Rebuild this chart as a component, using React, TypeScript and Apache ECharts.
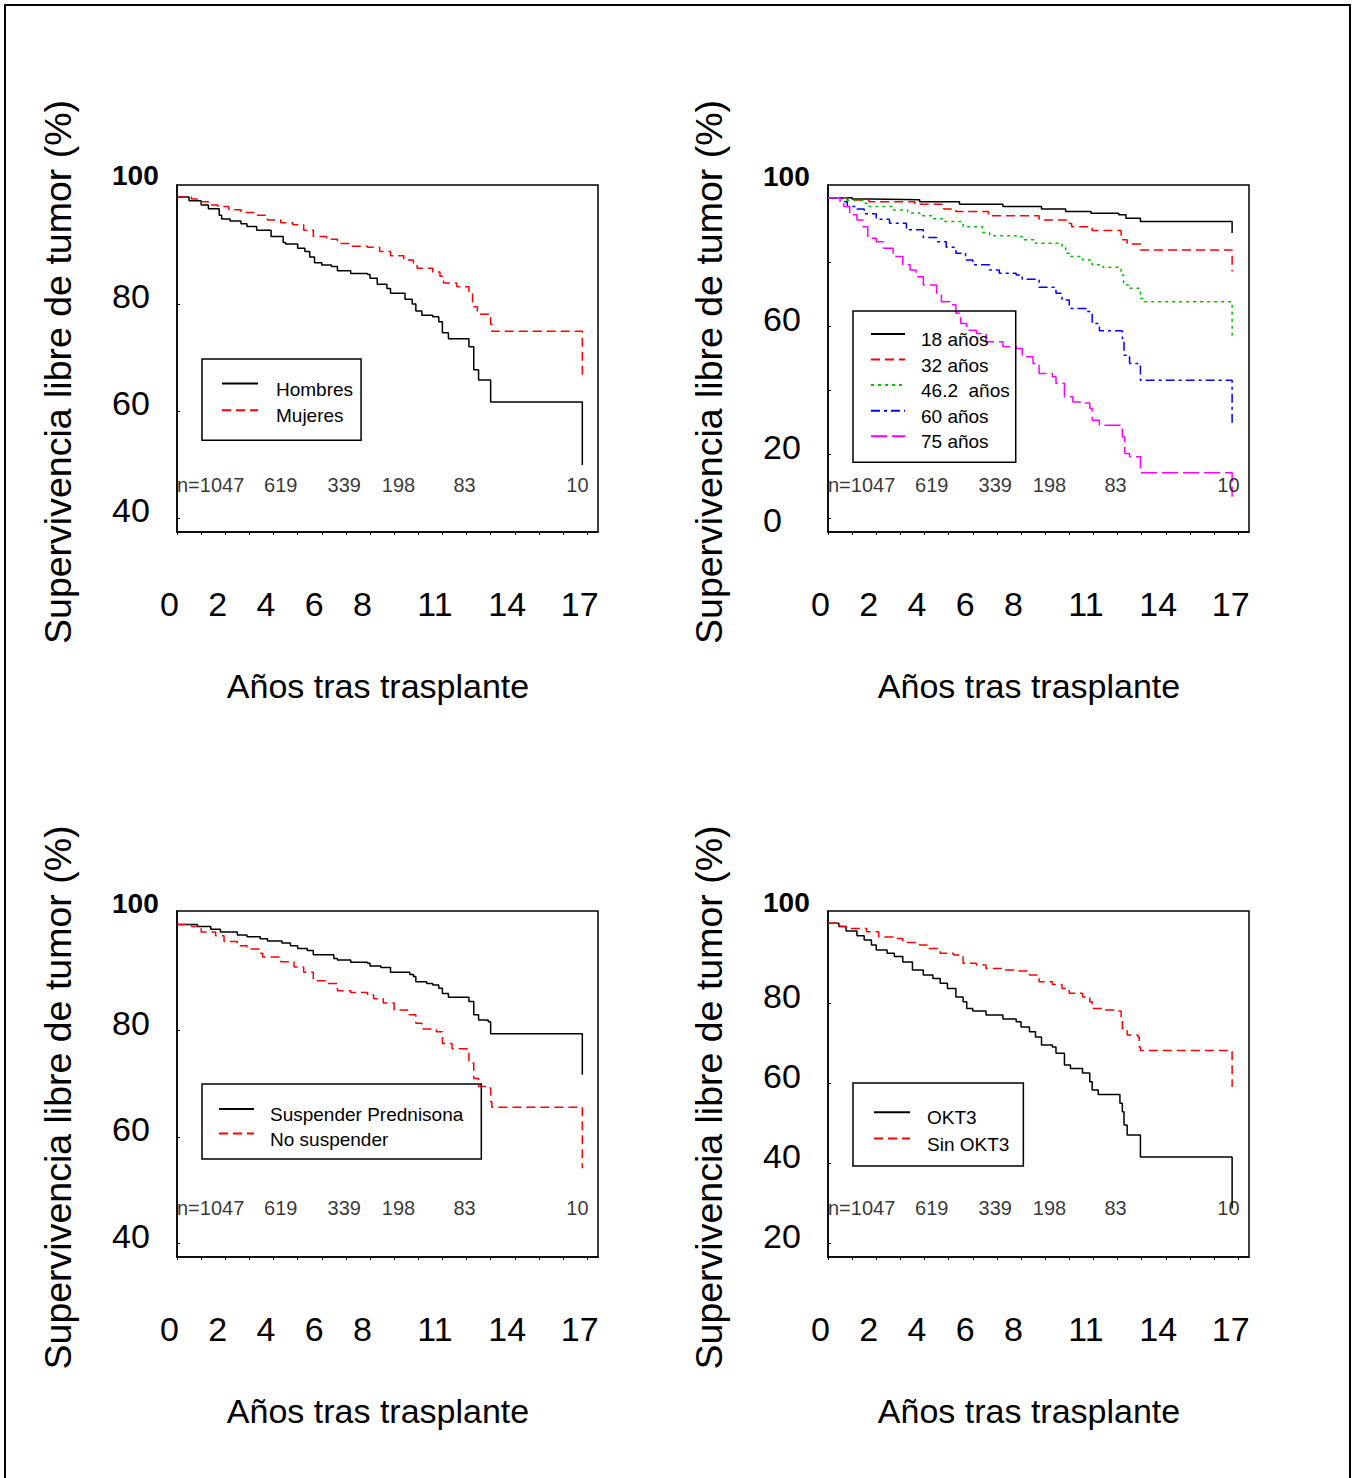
import React, { useEffect, useRef } from "react";
import * as echarts from "echarts";

const FONT = "'Liberation Sans', Arial, Helvetica, sans-serif";

// ---- axes ----
const xTickYears = [0, 1, 2, 3, 4, 5, 6, 7, 8, 9, 10, 11, 12, 13, 14, 15, 16, 17];
const xLabelYears = [0, 2, 4, 6, 8, 11, 14, 17];
const xTitle = "Años tras trasplante";
const yTitle = "Supervivencia libre de tumor (%)";

// ---- numbers at risk ----
const atRiskYears = [0, 4.3, 6.93, 9.18, 11.92, 16.6];
const atRiskCounts = ["n=1047", "619", "339", "198", "83", "10"];

// ---- panel 1: sexo ----
const hombres = [[0,100],[0.5,99.3],[1.0,98.5],[1.3,97.8],[1.75,96.6],[1.85,95.9],[2.2,95.5],[2.65,95.0],[2.9,94.5],[3.3,93.8],[3.9,92.6],[4.4,91.5],[4.5,91.2],[5.0,90.4],[5.3,89.8],[5.5,88.8],[5.7,87.7],[6.0,87.3],[6.4,87.0],[6.65,86.2],[7.2,85.7],[7.9,85.5],[8.0,84.8],[8.3,83.7],[8.7,82.9],[8.85,82.0],[9.45,80.9],[9.75,80.0],[9.9,78.7],[10.15,77.9],[10.6,77.6],[10.85,76.7],[11.0,74.6],[11.25,73.5],[12.1,72.0],[12.3,67.7],[12.5,65.8],[13.0,61.7],[16.8,61.7],[16.8,49.9]];
const mujeres = [[0,100],[0.6,99.6],[1.0,99.1],[1.3,98.5],[1.7,98.2],[2.15,97.6],[2.65,97.1],[3.2,96.6],[3.75,95.7],[4.3,95.2],[4.8,94.8],[5.25,93.8],[5.65,92.6],[6.2,92.1],[6.65,91.3],[7.2,90.8],[7.9,90.6],[8.4,89.8],[8.85,89.0],[9.4,88.2],[9.8,87.3],[9.95,86.7],[10.6,86.0],[10.9,85.2],[11.05,83.9],[11.6,83.2],[12.1,82.0],[12.25,79.5],[12.45,78.1],[12.95,77.9],[13.0,76.2],[13.05,74.9],[16.8,74.9],[16.8,66.1]];

// ---- panel 2: edad ----
const edad18 = [[0,100],[1.0,99.6],[1.75,99.4],[3.8,98.8],[5.45,98.0],[7.25,97.3],[8.85,96.5],[9.85,95.7],[10.9,95.2],[12.05,94.7],[12.35,93.6],[12.95,92.6],[16.75,92.6],[16.75,89.0]];
const edad32 = [[0,100],[0.8,99.3],[1.7,98.8],[3.6,98.0],[4.8,96.5],[5.3,95.7],[6.65,94.4],[8.75,93.1],[10.0,92.0],[10.1,91.0],[10.95,89.8],[12.15,86.9],[12.4,85.6],[12.95,83.75],[16.75,83.75],[16.75,77.0]];
const edad46 = [[0,100],[0.75,99.2],[1.45,98.3],[1.65,97.3],[2.7,96.2],[3.3,95.3],[3.8,94.4],[4.3,93.5],[4.75,92.6],[5.6,91.0],[6.4,89.2],[6.7,88.2],[7.8,87.9],[8.05,86.9],[8.6,85.8],[9.7,84.6],[9.85,82.7],[10.0,81.7],[10.55,80.6],[10.95,79.1],[11.4,78.3],[12.05,78.0],[12.15,75.9],[12.25,72.8],[12.5,71.8],[12.9,71.25],[12.95,68.6],[13.1,67.6],[16.75,67.6],[16.75,56.1]];
const edad60 = [[0,100],[0.6,98.8],[0.8,97.3],[1.2,96.5],[1.5,95.0],[2.0,93.3],[2.55,92.1],[3.25,90.0],[3.95,87.6],[4.5,86.3],[4.9,84.6],[5.3,82.7],[5.7,80.6],[6.0,79.1],[6.7,77.5],[7.1,76.5],[7.8,75.9],[8.05,74.6],[8.75,72.1],[9.45,70.2],[9.7,68.1],[10.0,65.5],[10.7,64.5],[10.95,60.8],[11.25,58.5],[12.2,56.1],[12.27,50.9],[12.5,48.3],[12.9,47.8],[12.95,43.1],[16.75,43.1],[16.75,29.6]];
const edad75 = [[0,100],[0.5,98.8],[0.65,97.3],[0.9,94.7],[1.2,93.1],[1.45,91.0],[1.65,87.4],[2.0,86.3],[2.3,84.3],[2.7,81.7],[3.1,79.1],[3.4,77.5],[3.65,75.4],[3.95,72.8],[4.5,70.2],[4.7,67.6],[5.05,66.6],[5.3,64.0],[5.5,60.8],[5.75,58.7],[6.15,57.7],[6.55,55.1],[7.25,53.5],[7.8,53.0],[8.05,50.4],[8.5,48.3],[8.75,45.2],[9.3,44.2],[9.45,42.1],[9.8,37.9],[10.15,36.3],[10.55,36.0],[10.85,34.3],[10.95,30.6],[11.25,29.0],[12.2,25.4],[12.3,20.2],[12.5,19.2],[12.95,14.2],[16.75,14.2],[16.75,6.7]];

// ---- panel 3: prednisona ----
const suspender = [[0,100],[0.85,99.6],[1.4,99.1],[1.8,98.6],[2.5,98.0],[2.9,97.7],[3.45,97.3],[3.75,96.9],[4.35,96.5],[4.7,96.0],[5.0,95.5],[5.4,95.1],[5.65,94.3],[6.5,93.6],[6.65,93.3],[7.2,92.9],[7.9,92.7],[8.0,92.2],[8.45,91.9],[8.85,91.0],[9.65,90.6],[9.8,90.2],[9.9,89.2],[10.35,88.9],[10.6,88.6],[10.85,88.0],[11.0,87.0],[11.25,86.3],[12.1,85.5],[12.3,83.0],[12.5,82.0],[12.9,81.7],[13.0,79.4],[16.8,79.4],[16.8,71.7]];
const noSuspender = [[0,100],[0.6,99.6],[1.0,98.6],[1.6,97.9],[1.95,96.8],[2.5,96.0],[2.9,95.4],[3.45,94.6],[3.55,93.9],[4.3,93.0],[4.85,92.0],[5.25,91.0],[5.65,89.4],[6.25,88.9],[6.65,87.5],[7.2,87.2],[7.9,86.7],[8.15,86.0],[8.55,85.2],[9.0,83.9],[9.55,83.0],[9.9,81.4],[10.15,80.3],[10.75,79.8],[11.0,77.6],[11.4,76.6],[12.1,73.9],[12.3,71.0],[12.5,69.5],[12.9,69.2],[13.0,66.6],[13.05,65.6],[16.8,65.6],[16.8,54.1]];

// ---- panel 4: OKT3 ----
const okt3 = [[0,100],[0.45,99.2],[0.75,98.1],[1.2,96.9],[1.5,95.8],[1.8,94.6],[2.0,93.3],[2.45,92.5],[2.75,91.7],[3.1,90.3],[3.5,88.3],[3.95,87.1],[4.35,86.2],[4.65,85.0],[4.95,83.7],[5.3,81.6],[5.6,80.4],[5.75,78.7],[6.0,78.1],[6.55,77.1],[7.25,76.1],[7.8,75.4],[8.0,74.1],[8.35,72.9],[8.6,71.6],[8.85,69.6],[9.3,69.1],[9.45,67.5],[9.8,64.6],[10.05,63.7],[10.55,62.6],[10.85,60.4],[10.95,58.3],[11.2,57.2],[12.1,55.0],[12.2,52.9],[12.27,49.6],[12.4,47.1],[12.95,41.6],[16.75,41.6],[16.75,28.7]];
const sinOkt3 = [[0,100],[0.5,99.2],[0.75,98.7],[1.6,97.9],[2.1,96.6],[2.7,96.2],[3.1,95.2],[3.8,94.6],[4.15,93.7],[4.65,92.5],[5.2,92.1],[5.6,90.0],[6.15,89.6],[6.55,88.7],[7.25,88.3],[7.8,88.1],[8.35,87.1],[8.75,85.4],[9.3,84.7],[9.7,83.7],[10.0,82.5],[10.55,81.6],[10.85,80.4],[10.95,78.7],[11.5,78.3],[12.0,78.1],[12.15,76.6],[12.2,73.7],[12.4,72.1],[12.85,71.6],[12.9,69.1],[12.95,68.2],[16.75,68.2],[16.75,59.1]];

// ---- y axis tick/label values per panel ----
const yTicks1 = [40, 60, 80, 100];
const yLabels1 = [100, 80, 60, 40];
const yTicks2 = [0, 20, 40, 60, 80, 100];
const yLabels2 = [100, 60, 20, 0];
const yTicks3 = [40, 60, 80, 100];
const yLabels3 = [100, 80, 60, 40];
const yTicks4 = [20, 40, 60, 80, 100];
const yLabels4 = [100, 80, 60, 40, 20];

const BLACK = "#000000";
const RED = "#ff0000";
const GREEN = "#00c000";
const BLUE = "#0000ff";
const MAGENTA = "#ff00ff";

const SOLID = "solid";
const DASH = [9, 5];
const DOT = [3, 4];
const DASHDOT = [9, 4, 3, 4];
const LONGDASH = [16, 5];

type S = { name: string; data: number[][]; color: string; type: any };

const panels = [
  {
    grid: { left: 177, top: 185, width: 421, height: 347 },
    yMin: 37.38, yMax: 102.24, yTicks: yTicks1, yLabels: yLabels1, atRiskY: 46.17,
    legend: { left: 202, top: 359, padding: [19, 8, 15, 19], itemWidth: 36, itemGap: 6, textPad: 13 },
    series: [
      { name: "Hombres", data: hombres, color: BLACK, type: SOLID },
      { name: "Mujeres", data: mujeres, color: RED, type: DASH },
    ] as S[],
  },
  {
    grid: { left: 828, top: 185, width: 421, height: 347 },
    yMin: -4.28, yMax: 104.0, yTicks: yTicks2, yLabels: yLabels2, atRiskY: 10.39,
    legend: { left: 853, top: 311, padding: [17.3, 6, 11, 17], itemWidth: 34, itemGap: 5, textPad: 11 },
    series: [
      { name: "18 años", data: edad18, color: BLACK, type: SOLID },
      { name: "32 años", data: edad32, color: RED, type: DASH },
      { name: "46.2  años", data: edad46, color: GREEN, type: DOT },
      { name: "60 años", data: edad60, color: BLUE, type: DASHDOT },
      { name: "75 años", data: edad75, color: MAGENTA, type: LONGDASH },
    ] as S[],
  },
  {
    grid: { left: 177, top: 911, width: 421, height: 346 },
    yMin: 37.38, yMax: 102.54, yTicks: yTicks3, yLabels: yLabels3, atRiskY: 46.61,
    legend: { left: 202, top: 1084, padding: [19.3, 18, 10.4, 16], itemWidth: 35, itemGap: 4, textPad: 11 },
    series: [
      { name: "Suspender Prednisona", data: suspender, color: BLACK, type: SOLID },
      { name: "No suspender", data: noSuspender, color: RED, type: DASH },
    ] as S[],
  },
  {
    grid: { left: 828, top: 911, width: 421, height: 346 },
    yMin: 16.58, yMax: 103.08, yTicks: yTicks4, yLabels: yLabels4, atRiskY: 28.83,
    legend: { left: 853, top: 1083, padding: [23.7, 14, 12.4, 20], itemWidth: 36, itemGap: 5.6, textPad: 12 },
    series: [
      { name: "OKT3", data: okt3, color: BLACK, type: SOLID },
      { name: "Sin OKT3", data: sinOkt3, color: RED, type: DASH },
    ] as S[],
  },
];

function buildOption() {
  const axisLine = { show: true, onZero: false, lineStyle: { color: "#000", width: 1.5 } };
  const series: any[] = [];
  panels.forEach((p, i) => {
    p.series.forEach((s) => {
      series.push({
        type: "line",
        name: s.name,
        xAxisIndex: i,
        yAxisIndex: i,
        step: "end",
        symbol: "none",
        showSymbol: false,
        color: s.color,
        lineStyle: { color: s.color, width: 1.5, type: s.type },
        data: s.data,
        z: 3,
      });
    });
    series.push({
      type: "scatter",
      name: "atrisk" + i,
      xAxisIndex: i,
      yAxisIndex: i,
      symbolSize: 1,
      itemStyle: { color: "transparent" },
      silent: true,
      label: {
        show: true,
        position: "inside",
        formatter: "{b}",
        fontSize: 20,
        fontFamily: FONT,
        color: "#000",
      },
      data: atRiskYears.map((t, k) => ({
        value: [t, p.atRiskY],
        name: atRiskCounts[k],
        label: { align: k === 0 ? "left" : "center" },
      })),
      z: 4,
    });
  });

  return {
    animation: false,
    backgroundColor: "#ffffff",
    graphic: [
      {
        type: "rect",
        shape: { x: 5, y: 5, width: 1345, height: 1490 },
        style: { fill: "none", stroke: "#000", lineWidth: 2 },
        silent: true,
      },
    ],
    grid: panels.map((p) => ({
      ...p.grid,
      show: true,
      borderColor: "#000",
      borderWidth: 1.5,
      backgroundColor: "transparent",
      containLabel: false,
      outerBoundsMode: "none",
    })),
    legend: panels.map((p) => ({
      data: p.series.map((s) => s.name),
      orient: "vertical",
      left: p.legend.left,
      top: p.legend.top,
      padding: p.legend.padding,
      itemWidth: p.legend.itemWidth,
      itemHeight: 14,
      itemGap: p.legend.itemGap,
      borderColor: "#000",
      borderWidth: 1.5,
      backgroundColor: "transparent",
      selectedMode: false,
      itemStyle: { opacity: 0 },
      lineStyle: { opacity: 1 },
      formatter: "{t|{name}}",
      textStyle: {
        fontSize: 19,
        fontFamily: FONT,
        color: "#000",
        rich: {
          t: {
            fontSize: 19,
            fontFamily: FONT,
            color: "#000",
            padding: [11, 0, 0, p.legend.textPad],
          },
        },
      },
    })),
    xAxis: panels.map((p, i) => ({
      type: "value",
      gridIndex: i,
      min: 0,
      max: 17.45,
      name: xTitle,
      nameLocation: "middle",
      nameGap: 137,
      nameTextStyle: { fontSize: 34, fontFamily: FONT, color: "#000", padding: [0, 19, 0, 0] },
      axisLine,
      axisTick: { show: true, inside: false, length: 3, customValues: xTickYears, lineStyle: { color: "#000", width: 1 } },
      axisLabel: {
        customValues: xLabelYears,
        fontSize: 34,
        fontFamily: FONT,
        color: "#000",
        margin: 55,
        padding: [0, 15, 0, 0],
      },
      splitLine: { show: false },
    })),
    yAxis: panels.map((p, i) => ({
      type: "value",
      gridIndex: i,
      min: p.yMin,
      max: p.yMax,
      name: yTitle,
      nameLocation: "middle",
      nameRotate: 90,
      nameGap: 100,
      nameTextStyle: { fontSize: 37.5, fontFamily: FONT, color: "#000", padding: [0, 27, 0, 0] },
      axisLine,
      axisTick: { show: true, inside: true, length: 3, customValues: p.yTicks, lineStyle: { color: "#000", width: 1 } },
      axisLabel: {
        customValues: p.yLabels,
        align: "left",
        margin: 65,
        formatter: (v: number) => (v === 100 ? "{b|100}" : v === 0 ? "{z|0}" : `{n|${v}}`),
        rich: {
          b: { fontSize: 28, fontWeight: "bold", fontFamily: FONT, color: "#000", padding: [0, 0, 42, 0] },
          n: { fontSize: 34, fontFamily: FONT, color: "#000", padding: [0, 0, 15, 0] },
          z: { fontSize: 34, fontFamily: FONT, color: "#000", padding: [4, 0, 0, 0] },
        },
      },
      splitLine: { show: false },
    })),
    series,
  };
}

export default function App() {
  const ref = useRef<HTMLDivElement>(null);
  useEffect(() => {
    if (!ref.current) return;
    const chart = echarts.init(ref.current, undefined, { renderer: "svg" });
    chart.setOption(buildOption() as any);
    return () => chart.dispose();
  }, []);
  return (
    <div
      ref={ref}
      style={{ position: "absolute", left: 0, top: 0, width: 1358, height: 1478, background: "#fff" }}
    />
  );
}
